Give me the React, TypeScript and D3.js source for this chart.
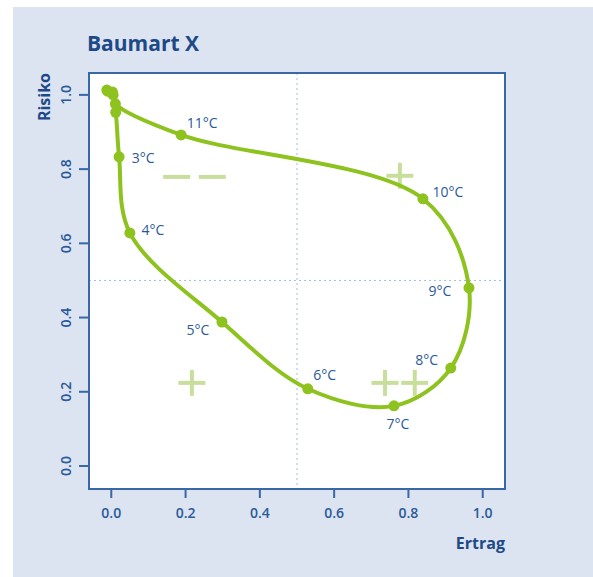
import React from "react";
import * as d3 from "d3";

// ---- data ----
const temps = [0, 1, 2, 3, 4, 5, 6, 7, 8, 9, 10, 11, 12, 13, 14];
const ertrag = [-0.012, 0.003, 0.012, 0.021, 0.05, 0.298, 0.529, 0.761, 0.914, 0.963, 0.839, 0.188, 0.011, 0.005, -0.01];
const risiko = [1.013, 1.008, 0.953, 0.833, 0.628, 0.388, 0.208, 0.162, 0.264, 0.48, 0.72, 0.892, 0.976, 1.0, 1.01];
const labeledTemps = [3, 4, 5, 6, 7, 8, 9, 10, 11];
const xTicks = [0, 0.2, 0.4, 0.6, 0.8, 1.0];
const yTicks = [0, 0.2, 0.4, 0.6, 0.8, 1.0];
const refX = 0.5;
const refY = 0.5;
const markX = [0.217, 0.777, 0.737, 0.817, 0.176, 0.272];
const markY = [0.224, 0.782, 0.224, 0.224, 0.779, 0.779];
const markSym = ["+", "+", "+", "+", "-", "-"];

// label placement (px offsets from point)
const labelDx = [24, 23, -24, 17, 4, -24, -29, 25, 21];
const labelDy = [1, -3, 7, -14, 18, -9, 3, -7, -12];

const W = 593, H = 577;
const left = 89, right = 505, top = 73, bottom = 489;

const GREEN = "#8dc21f";
const LIGHT = "#c8de9c";
const AXIS = "#3a67a6";
const TEXT = "#2a5a9a";
const TITLE = "#1d4a87";
const FONT = "'Open Sans', 'Noto Sans', sans-serif";

export default function App() {
  const x = d3.scaleLinear().domain([-0.06, 1.06]).range([left, right]);
  const y = d3.scaleLinear().domain([-0.062, 1.059]).range([bottom, top]);
  const pts: [number, number][] = ertrag.map((e, i) => [x(e), y(risiko[i])]);
  const line = d3.line().curve(d3.curveCatmullRom.alpha(0.5))(pts) || "";

  return (
    <svg width={W} height={H} style={{ position: "absolute", left: 0, top: 0 }}>
      <rect x={0} y={0} width={W} height={H} fill="#ffffff" />
      <rect x={13} y={7} width={W - 13} height={H - 7} fill="#dce3f1" />
      <rect x={left} y={top} width={right - left} height={bottom - top} fill="#ffffff" />
      <text x={87} y={51} fontFamily={FONT} fontWeight={700} fontSize={21} fill={TITLE}>Baumart X</text>

      {/* reference lines */}
      <line x1={x(refX)} x2={x(refX)} y1={top} y2={bottom} stroke="#a3bce3" strokeWidth={1} strokeDasharray="2,3" />
      <line x1={left} x2={right} y1={y(refY)} y2={y(refY)} stroke="#a3bce3" strokeWidth={1} strokeDasharray="2,3" />

      {/* quadrant marks */}
      {markX.map((mx, i) => {
        const cx = x(mx), cy = y(markY[i]);
        return (
          <g key={i} stroke={LIGHT} strokeWidth={4}>
            <line x1={cx - 13.5} x2={cx + 13.5} y1={cy} y2={cy} />
            {markSym[i] === "+" && <line x1={cx} x2={cx} y1={cy - 13} y2={cy + 13} />}
          </g>
        );
      })}

      <path d={line} fill="none" stroke={GREEN} strokeWidth={4} />
      {pts.map((p, i) => (
        <circle key={i} cx={p[0]} cy={p[1]} r={5.5} fill={GREEN} />
      ))}
      {labeledTemps.map((t, j) => {
        const i = temps.indexOf(t);
        return (
          <text key={t} x={pts[i][0] + labelDx[j]} y={pts[i][1] + labelDy[j]} textAnchor="middle" dominantBaseline="central"
            fontFamily={FONT} fontSize={14} fill={TEXT}>{t}°C</text>
        );
      })}

      {/* frame */}
      <rect x={left} y={top} width={right - left} height={bottom - top} fill="none" stroke={AXIS} strokeWidth={2} />
      {xTicks.map((t) => (
        <g key={t}>
          <line x1={x(t)} x2={x(t)} y1={bottom} y2={bottom + 9} stroke={AXIS} strokeWidth={2} />
          <text x={x(t)} y={bottom + 23} textAnchor="middle" dominantBaseline="central" fontFamily={FONT} fontSize={14} fontWeight={600} fill={TEXT}>{t.toFixed(1)}</text>
        </g>
      ))}
      {yTicks.map((t) => (
        <g key={t}>
          <line x1={left - 10} x2={left} y1={y(t)} y2={y(t)} stroke={AXIS} strokeWidth={2} />
          <text transform={`translate(${left - 24},${y(t)}) rotate(-90)`} textAnchor="middle" dominantBaseline="central" fontFamily={FONT} fontSize={14} fontWeight={600} fill={TEXT}>{t.toFixed(1)}</text>
        </g>
      ))}
      <text x={right} y={549} textAnchor="end" fontFamily={FONT} fontWeight={700} fontSize={16} fill={TITLE}>Ertrag</text>
      <text transform={`translate(44,${top}) rotate(-90)`} textAnchor="end" dominantBaseline="central" fontFamily={FONT} fontWeight={700} fontSize={16} fill={TITLE}>Risiko</text>
    </svg>
  );
}
